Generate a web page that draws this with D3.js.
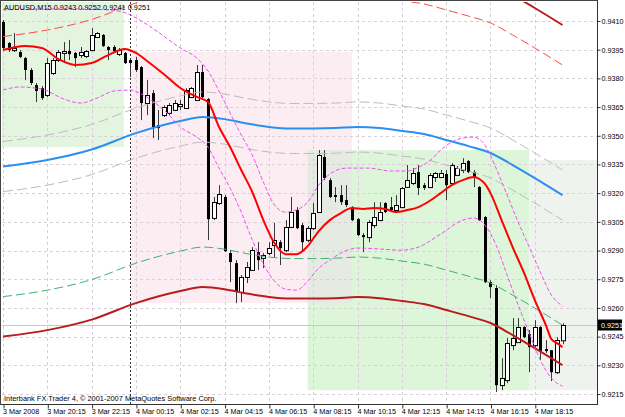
<!DOCTYPE html>
<html><head><meta charset="utf-8">
<script src="https://cdn.jsdelivr.net/npm/d3@7"></script>
<style>
html,body{margin:0;padding:0;background:#fff;}
svg{display:block;}
text{font-family:"Liberation Sans",Arial,sans-serif;}
</style></head><body>
<svg id="c" width="625" height="417"></svg>
<script>
// ---------- DATA ----------
const symbol = "AUDUSD,M15";
const tickIndex = [0,8,16,24,32,40,48,56,64,72,80,88,96];
const tickLabels = ["3 Mar 2008","3 Mar 20:15","3 Mar 22:15","4 Mar 00:15","4 Mar 02:15","4 Mar 04:15","4 Mar 06:15","4 Mar 08:15","4 Mar 10:15","4 Mar 12:15","4 Mar 14:15","4 Mar 16:15","4 Mar 18:15"];
const priceTicks = [0.9215,0.9230,0.9245,0.9260,0.9275,0.9290,0.9305,0.9320,0.9335,0.9350,0.9365,0.9380,0.9395,0.9410];
const separatorIndex = [23];

const open = [0.94095,0.93985,0.93948,0.93938,0.93906,0.93844,0.93765,0.93749,0.93713,0.93828,
0.93896,0.93933,0.93943,0.93933,0.93922,0.93917,0.93948,0.94016,0.94027,0.93964,
0.93964,0.93927,0.93933,0.93896,0.93896,0.93859,0.93671,0.93723,0.93556,0.93608,
0.93619,0.93635,0.93655,0.93645,0.93702,0.93687,0.93833,0.93692,0.93070,0.93148,
0.93180,0.92887,0.92834,0.92683,0.92761,0.92798,0.92892,0.92861,0.92887,0.92929,
0.92944,0.92902,0.93023,0.93112,0.93033,0.92955,0.93017,0.93101,0.93389,0.93268,
0.93190,0.93190,0.93164,0.93127,0.93064,0.92981,0.92970,0.93033,0.93059,0.93148,
0.93127,0.93112,0.93127,0.93232,0.93253,0.93310,0.93242,0.93232,0.93284,0.93284,
0.93300,0.93253,0.93295,0.93321,0.93368,0.93310,0.93232,0.93075,0.92735,0.92704,
0.92196,0.92222,0.92405,0.92421,0.92500,0.92463,0.92405,0.92500,0.92385,0.92379,
0.92264,0.9243];
const high = [0.94105,0.93990,0.94037,0.93948,0.93912,0.93854,0.93776,0.93760,0.93906,0.93906,
0.93948,0.93990,0.94001,0.93938,0.93964,0.93948,0.94063,0.94042,0.94032,0.93969,
0.93974,0.93959,0.93938,0.93906,0.93912,0.93865,0.93791,0.93739,0.93635,0.93660,
0.93671,0.93687,0.93687,0.93749,0.93755,0.93870,0.93870,0.93697,0.93180,0.93242,
0.93190,0.92902,0.92850,0.92772,0.92840,0.92918,0.92944,0.92887,0.92944,0.93044,
0.92955,0.93059,0.93180,0.93127,0.93044,0.93028,0.93148,0.93425,0.93425,0.93279,
0.93232,0.93242,0.93242,0.93132,0.93070,0.92991,0.93059,0.93153,0.93153,0.93153,
0.93180,0.93190,0.93232,0.93347,0.93331,0.93347,0.93253,0.93305,0.93310,0.93321,
0.93321,0.93357,0.93342,0.93383,0.93373,0.93321,0.93237,0.93080,0.92745,0.92719,
0.92337,0.92442,0.92547,0.92547,0.92505,0.92484,0.92536,0.92505,0.92432,0.92379,
0.92447,0.9252];
const low = [0.93948,0.93938,0.93938,0.93906,0.93791,0.93765,0.93676,0.93687,0.93702,0.93818,
0.93886,0.93886,0.93896,0.93859,0.93906,0.93906,0.93943,0.94011,0.93964,0.93896,
0.93933,0.93917,0.93875,0.93807,0.93833,0.93582,0.93608,0.93488,0.93478,0.93598,
0.93608,0.93629,0.93635,0.93640,0.93697,0.93687,0.93697,0.92955,0.93059,0.93138,
0.92892,0.92735,0.92625,0.92630,0.92730,0.92798,0.92798,0.92808,0.92876,0.92861,
0.92824,0.92892,0.93017,0.93012,0.92892,0.92944,0.93007,0.93096,0.93268,0.93174,
0.93153,0.93138,0.93127,0.93054,0.92976,0.92892,0.92944,0.93017,0.93054,0.93096,
0.93101,0.93101,0.93122,0.93227,0.93242,0.93190,0.93216,0.93227,0.93258,0.93279,
0.93164,0.93242,0.93289,0.93305,0.93305,0.93232,0.93054,0.92730,0.92651,0.92160,
0.92170,0.92207,0.92379,0.92421,0.92442,0.92264,0.92379,0.92327,0.92364,0.92217,
0.92254,0.9241];
const close = [0.93959,0.93948,0.93959,0.93912,0.93844,0.93776,0.93734,0.93697,0.93880,0.93896,
0.93938,0.93943,0.93927,0.93906,0.93938,0.93943,0.94027,0.94037,0.93969,0.93948,
0.93943,0.93948,0.93880,0.93880,0.93844,0.93671,0.93713,0.93546,0.93540,0.93650,
0.93660,0.93671,0.93666,0.93739,0.93749,0.93833,0.93702,0.93064,0.93153,0.93195,
0.92897,0.92840,0.92683,0.92761,0.92813,0.92902,0.92850,0.92876,0.92913,0.92955,
0.92913,0.93023,0.93101,0.93017,0.92944,0.93017,0.93096,0.93399,0.93279,0.93180,
0.93180,0.93153,0.93138,0.93059,0.92981,0.92970,0.93049,0.93075,0.93101,0.93101,
0.93112,0.93138,0.93227,0.93268,0.93305,0.93227,0.93227,0.93295,0.93305,0.93305,
0.93242,0.93347,0.93331,0.93357,0.93310,0.93284,0.93059,0.92735,0.92709,0.92196,
0.92233,0.92416,0.92442,0.92500,0.92447,0.92395,0.92500,0.92374,0.92374,0.92264,
0.92432,0.9251];

// fast moving average (red)
const maFastIdx = [0,4,7,10,13,16,19,22,24,26,29,32,35,37,39,41,43,45,47,49,51,53,55,57,59,61,63,65,67,69,71,73,75,77,79,81,83,85,86,87,88,90,92,94,96,98,99,100,101];
const maFast = [0.93948,0.93969,0.93959,0.93901,0.93870,0.93880,0.93922,0.93954,0.93933,0.93891,
0.93823,0.93750,0.93703,0.93676,0.93546,0.93441,0.93321,0.93206,0.93059,0.92939,
0.92881,0.92881,0.92923,0.93002,0.93059,0.93096,0.93122,0.93117,0.93122,0.93117,
0.93101,0.93112,0.93127,0.93159,0.93200,0.93242,0.93268,0.93284,0.93274,0.93248,
0.93200,0.93059,0.92918,0.92787,0.92641,0.92510,0.92437,0.92416,0.92395];

// bands around the fast average (magenta)
const bandUpIdx = [0,7,14,19,22,25,28,32,35,37,39,41,43,45,47,49,51,53,55,57,59,62,66,70,73,75,77,79,81,83,85,87,89,91,93,95,97,99,101];
const bandUp = [0.94158,0.94163,0.94163,0.94158,0.94144,0.94100,0.94042,0.93959,0.93906,0.93839,
0.93734,0.93619,0.93504,0.93399,0.93258,0.93138,0.93101,0.93112,0.93153,0.93242,
0.93300,0.93331,0.93331,0.93316,0.93316,0.93336,0.93368,0.93425,0.93467,0.93488,
0.93493,0.93451,0.93331,0.93190,0.93049,0.92918,0.92787,0.92667,0.92609];
const bandDnIdx = [0,3,7,11,14,17,20,23,25,27,30,32,35,37,39,41,43,45,47,49,51,53,55,57,59,61,64,68,72,75,79,83,85,87,89,91,93,95,97,99,101];
const bandDn = [0.93739,0.93755,0.93744,0.93692,0.93671,0.93697,0.93734,0.93739,0.93718,0.93682,
0.93608,0.93546,0.93493,0.93441,0.93331,0.93227,0.93101,0.92955,0.92829,0.92740,
0.92698,0.92693,0.92740,0.92808,0.92850,0.92887,0.92913,0.92908,0.92902,0.92918,
0.92986,0.93059,0.93070,0.93033,0.92929,0.92772,0.92615,0.92468,0.92327,0.92233,
0.92191];

// slow moving average (blue) and its envelopes
const maSlowIdx = [0,8,16,24,32,36,40,44,48,52,56,60,64,68,72,76,80,84,88,92,96,101];
const maSlow = [0.93339,0.93373,0.93428,0.93514,0.93577,0.93598,0.93587,0.93564,0.93546,0.93538,0.93538,0.93540,0.93546,0.93540,0.93525,0.93509,0.93478,0.93446,0.93410,0.93347,0.93279,0.93190];
const envInnerUp = [0.93470,0.93504,0.93559,0.93645,0.93708,0.93729,0.93718,0.93695,0.93677,0.93669,0.93669,0.93671,0.93677,0.93671,0.93656,0.93640,0.93609,0.93577,0.93541,0.93478,0.93410,0.93321];
const envInnerDn = [0.93208,0.93242,0.93297,0.93383,0.93446,0.93467,0.93456,0.93433,0.93415,0.93407,0.93407,0.93409,0.93415,0.93409,0.93394,0.93378,0.93347,0.93315,0.93279,0.93216,0.93148,0.93059];
const envMidUp = [0.94019,0.94053,0.94108,0.94194,0.94257,0.94278,0.94267,0.94244,0.94226,0.94218,0.94218,0.94220,0.94226,0.94220,0.94205,0.94189,0.94158,0.94126,0.94090,0.94027,0.93959,0.93870];
const envMidDn = [0.92659,0.92693,0.92748,0.92834,0.92897,0.92918,0.92907,0.92884,0.92866,0.92858,0.92858,0.92860,0.92866,0.92860,0.92845,0.92829,0.92798,0.92766,0.92730,0.92667,0.92599,0.92510];
const envOuterUp = [0.94228,0.94262,0.94317,0.94403,0.94466,0.94487,0.94476,0.94453,0.94435,0.94427,0.94427,0.94429,0.94435,0.94429,0.94414,0.94398,0.94367,0.94335,0.94299,0.94236,0.94168,0.94079];
const envOuterDn = [0.92450,0.92484,0.92539,0.92625,0.92688,0.92709,0.92698,0.92675,0.92657,0.92649,0.92649,0.92651,0.92657,0.92651,0.92636,0.92620,0.92589,0.92557,0.92521,0.92458,0.92390,0.92301];

// shaded rectangle objects (time index from / to, price top / bottom)
const zoneFrom = [-3, 23, 55, 95];
const zoneTo = [21.8, 63, 95, 115];
const zoneTop = [0.9430, 0.9394, 0.93425, 0.93373];
const zoneBottom = [0.93441, 0.92625, 0.92170, 0.92170];

// ---------- STYLE ----------
const zoneFill = ["#e3f5df", "#fcedf2", "#ddf5d9", "#eef3ee"];
const overlapFill = "#e5ebe3";

const W = 625, H = 417;
const plot = {l: 2, r: 597, t: 2, b: 404};
const svg = d3.select("#c");
svg.append("rect").attr("width", W).attr("height", H).attr("fill", "#fff");

const x = d3.scaleLinear().domain([0, 101]).range([3, 562.5]);
const y = d3.scaleLinear().domain([0.9215, 0.9410]).range([394, 21]);

svg.append("clipPath").attr("id", "clip").append("rect")
  .attr("x", plot.l).attr("y", plot.t).attr("width", plot.r - plot.l).attr("height", plot.b - plot.t);
const g = svg.append("g").attr("clip-path", "url(#clip)");

// zones
const zones = zoneFrom.map((f, i) => ({f, t: zoneTo[i], top: zoneTop[i], bot: zoneBottom[i], c: zoneFill[i]}));
g.selectAll("rect.zone").data(zones).enter().append("rect").attr("class", "zone")
  .attr("x", d => x(d.f)).attr("width", d => x(d.t) - x(d.f))
  .attr("y", d => y(d.top)).attr("height", d => y(d.bot) - y(d.top))
  .attr("fill", d => d.c);
// overlap of pink and green zones
{
  const a = zones[1], b = zones[2];
  const f = Math.max(a.f, b.f), t = Math.min(a.t, b.t);
  const top = Math.min(a.top, b.top), bot = Math.max(a.bot, b.bot);
  g.append("rect").attr("x", x(f)).attr("width", x(t) - x(f))
    .attr("y", y(top)).attr("height", y(bot) - y(top)).attr("fill", overlapFill);
}

// grid
g.selectAll("line.hg").data(priceTicks).enter().append("line")
  .attr("x1", plot.l).attr("x2", plot.r)
  .attr("y1", d => Math.round(y(d)) + 0.5).attr("y2", d => Math.round(y(d)) + 0.5)
  .attr("stroke", "#d8d0d6").attr("stroke-dasharray", "3,3");
g.selectAll("line.vg").data(tickIndex).enter().append("line")
  .attr("y1", plot.t).attr("y2", plot.b)
  .attr("x1", d => Math.round(x(d)) + 0.5).attr("x2", d => Math.round(x(d)) + 0.5)
  .attr("stroke", "#d8d0d6").attr("stroke-dasharray", "3,3");

// period separator
g.selectAll("line.sep").data(separatorIndex).enter().append("line")
  .attr("y1", plot.t).attr("y2", plot.b)
  .attr("x1", d => Math.round(x(d)) + 0.5).attr("x2", d => Math.round(x(d)) + 0.5)
  .attr("stroke", "#333").attr("stroke-dasharray", "2,2");

// bid line
const last = close.length - 1;
g.append("line").attr("x1", plot.l).attr("x2", plot.r)
  .attr("y1", Math.round(y(close[last])) + 0.5).attr("y2", Math.round(y(close[last])) + 0.5)
  .attr("stroke", "#c8c8c8");

// candles
const bars = open.map((o, i) => ({i, o, h: high[i], l: low[i], c: close[i]}));
const cg = g.append("g");
cg.selectAll("line.wick").data(bars).enter().append("line")
  .attr("x1", d => Math.round(x(d.i)) + 0.5).attr("x2", d => Math.round(x(d.i)) + 0.5)
  .attr("y1", d => y(d.h)).attr("y2", d => y(d.l))
  .attr("stroke", "#3a3a3a");
cg.selectAll("rect.body").data(bars).enter().append("rect")
  .attr("x", d => d.c >= d.o ? Math.round(x(d.i)) - 1.5 : Math.round(x(d.i)) - 1)
  .attr("width", d => d.c >= d.o ? 4 : 3)
  .attr("y", d => d.c >= d.o ? Math.round(y(Math.max(d.o, d.c))) + 0.5 : y(Math.max(d.o, d.c)))
  .attr("height", d => Math.max(1, Math.abs(y(d.o) - y(d.c))))
  .attr("fill", d => d.c >= d.o ? "#fff" : "#000")
  .attr("stroke", d => d.c >= d.o ? "#000" : "none")
  .attr("stroke-width", 1);

// lines
function drawLine(idx, vals, color, width, dash) {
  const pts = idx.map((k, j) => [k, vals[j]]);
  g.append("path").datum(pts)
    .attr("d", d3.line().x(d => x(d[0])).y(d => y(d[1])).curve(d3.curveMonotoneX))
    .attr("fill", "none").attr("stroke", color).attr("stroke-width", width)
    .attr("stroke-dasharray", dash || null);
}
drawLine(maSlowIdx, envOuterUp, "#b81c1c", 2);
drawLine(maSlowIdx, envOuterDn, "#b81c1c", 2);
drawLine(maSlowIdx, envMidUp, "#ff4a4a", 1, "9,4");
drawLine(maSlowIdx, envMidDn, "#3cb371", 1, "9,4");
drawLine(maSlowIdx, envInnerUp, "#bdbdbd", 1, "10,4");
drawLine(maSlowIdx, envInnerDn, "#bdbdbd", 1, "10,4");
drawLine(maSlowIdx, maSlow, "#2b8ff0", 2);
drawLine(bandUpIdx, bandUp, "#f050f0", 1, "4,2");
drawLine(bandDnIdx, bandDn, "#f050f0", 1, "4,2");
drawLine(maFastIdx, maFast, "#ff0000", 2);

// frame
svg.append("rect").attr("x", 0.5).attr("y", 0.5).attr("width", 597).attr("height", 404)
  .attr("fill", "none").attr("stroke", "#444");

// right axis
const yAxis = d3.axisRight(y).tickValues(priceTicks).tickFormat(d3.format(".4f")).tickSize(3).tickPadding(1);
const ya = svg.append("g").attr("transform", "translate(597.5,0)").call(yAxis);
ya.select(".domain").attr("stroke", "#333").attr("d", "M0,0.5V404.5");
ya.selectAll(".tick line").attr("stroke", "#333");
ya.selectAll("text").attr("font-size", 7.2).attr("fill", "#000")
  .attr("font-family", "Liberation Sans, Arial, sans-serif");

// bottom axis
const xAxis = d3.axisBottom(x).tickValues(tickIndex).tickFormat((d, i) => tickLabels[i]).tickSize(4).tickPadding(0);
const xa = svg.append("g").attr("transform", "translate(0.5,404.5)").call(xAxis);
xa.select(".domain").attr("stroke", "#333").attr("d", "M0,0H597");
xa.selectAll(".tick line").attr("stroke", "#333");
xa.selectAll("text").attr("text-anchor", "start").attr("x", -1).attr("font-size", 7.2).attr("fill", "#000")
  .attr("font-family", "Liberation Sans, Arial, sans-serif");

// current price marker
const cy = Math.round(y(close[last]));
svg.append("rect").attr("x", 598).attr("y", cy - 5.5).attr("width", 24).attr("height", 11).attr("fill", "#000");
svg.append("text").attr("x", 601).attr("y", cy + 2.5).attr("fill", "#fff").attr("font-size", 7.2)
  .text(d3.format(".4f")(close[last]));

// title & copyright
svg.append("text").attr("x", 4).attr("y", 10).attr("font-size", 7.4).attr("fill", "#000")
  .text(symbol + "  " + [open[last], high[last], low[last], close[last]].map(d3.format(".4f")).join(" "));
svg.append("text").attr("x", 4).attr("y", 400.5).attr("font-size", 7.4).attr("fill", "#000")
  .text("Interbank FX Trader 4, \u00a9 2001-2007 MetaQuotes Software Corp.");
</script>
</body></html>
